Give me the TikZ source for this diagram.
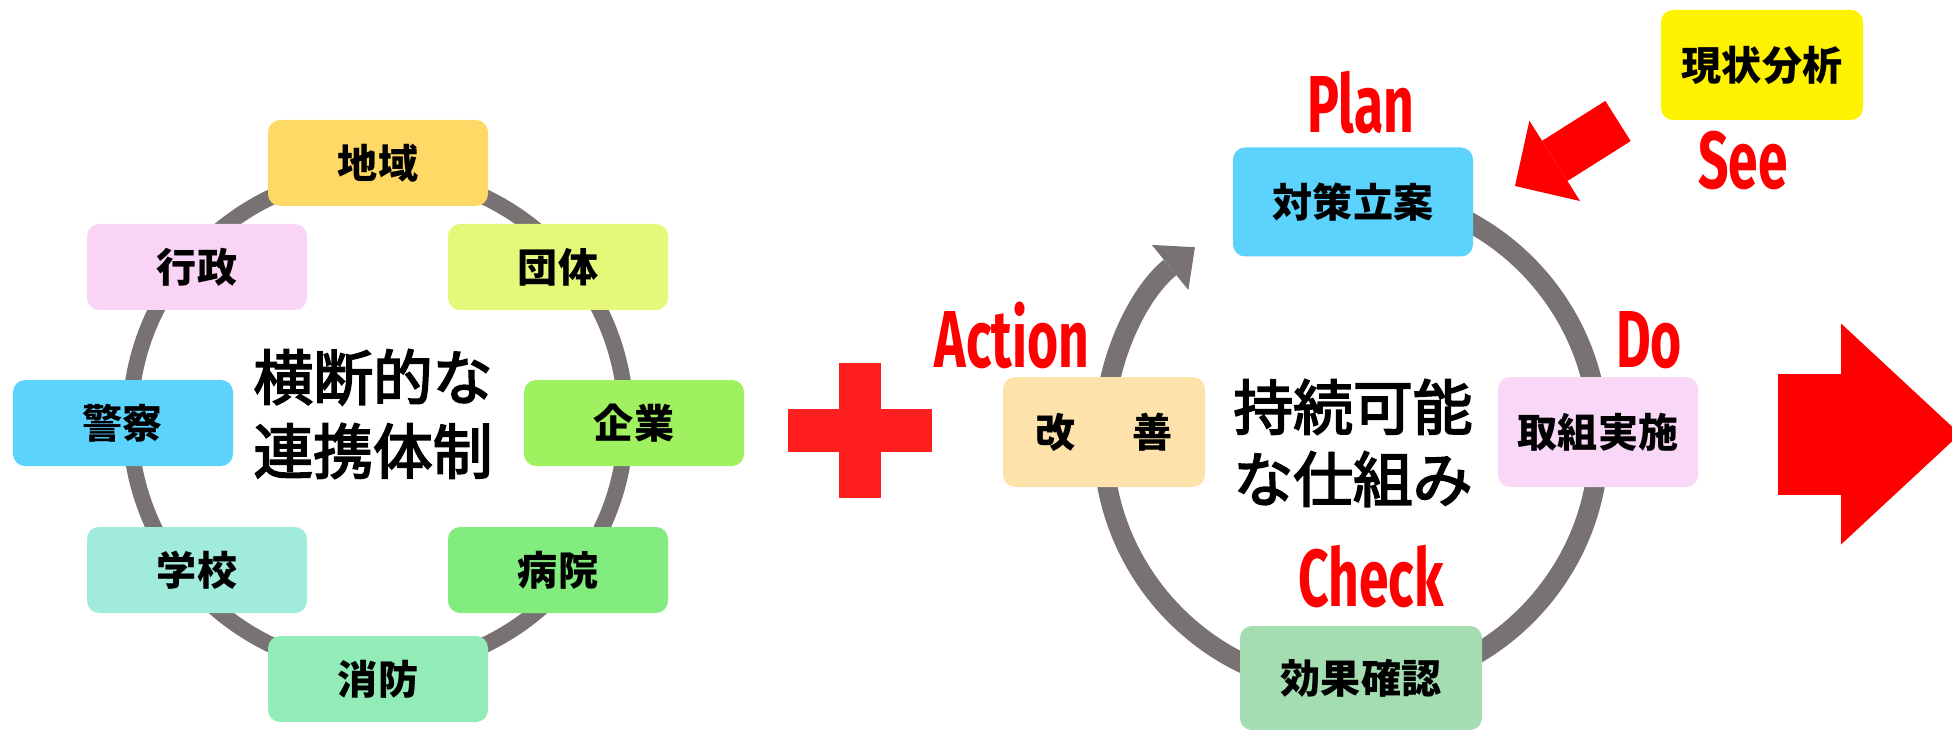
\documentclass[tikz,border=0pt]{standalone}
\usepackage{fontspec}
\usetikzlibrary{positioning,calc,arrows.meta}
\newfontfamily\jpfont{Noto Sans CJK JP}
\newfontfamily\jpmid[FakeBold=3]{Noto Sans CJK JP}
\newfontfamily\pdcafont[FakeStretch=0.66]{Fira Sans}
\definecolor{ringgray}{HTML}{787372}
\definecolor{plusred}{HTML}{FF1F1F}
\definecolor{cChiiki}{HTML}{FFD966}
\definecolor{cGyosei}{HTML}{F9D4F5}
\definecolor{cDantai}{HTML}{E5F87A}
\definecolor{cKeisatsu}{HTML}{5BD3FD}
\definecolor{cKigyo}{HTML}{A0F15F}
\definecolor{cGakko}{HTML}{A0EBDC}
\definecolor{cByoin}{HTML}{82EC7E}
\definecolor{cShobo}{HTML}{92ECB7}
\definecolor{cKaizen}{HTML}{FDE3AB}
\definecolor{cJisshi}{HTML}{F9D7F6}
\definecolor{cKakunin}{HTML}{A4DDB2}
\tikzset{font=\jpfont}
\tikzset{
	card/.style={rounded corners=1.2mm, inner sep=0pt, minimum width=22mm, minimum height=8.6mm, font=\jpfont\bfseries\fontsize{11.4}{13}\selectfont},
	pdcalabel/.style={text=red, inner sep=0pt, anchor=base, font=\pdcafont\bfseries\fontsize{23}{25}\selectfont},
	bigtext/.style={align=center, inner sep=0pt, font=\jpmid\fontsize{17}{21}\selectfont},
}

\begin{document}
\begin{tikzpicture}[x=0.1mm, y=-0.1mm]
	\useasboundingbox (0,0) rectangle (1952,730);

	\begin{scope}
		\coordinate (hub) at (378,421);
		\draw[ringgray, line width=1.6mm] (hub) circle[radius=24.8mm];

		\node[card, fill=cChiiki] (chiiki) at (378,163) {地域};
		\node[card, fill=cGyosei] (gyosei) at (197,267) {行政};
		\node[card, fill=cDantai] (dantai) at (558,267) {団体};
		\node[card, fill=cKeisatsu] (keisatsu) at (123,423) {警察};
		\node[card, fill=cKigyo] (kigyo) at (634,423) {企業};
		\node[card, fill=cGakko] (gakko) at (197,570) {学校};
		\node[card, fill=cByoin] (byoin) at (558,570) {病院};
		\node[card, fill=cShobo] (shobo) at (378,679) {消防};

		\node[bigtext] (renkei) at (373,414) {横断的な\\連携体制};
	\end{scope}

	\fill[plusred] (788,409) rectangle (932,452);
	\fill[plusred] (839,363) rectangle (881,498);

	\begin{scope}
		\coordinate (cyc) at (1351,440);
		\draw[ringgray, line width=2mm, -{Triangle[width=5.8mm, length=3.2mm, line width=0pt]}] ($(cyc)+(90:24.8mm)$) arc[start angle=90, end angle=-231, radius=24.8mm];

		\node[card, fill=cKeisatsu, minimum width=24mm, minimum height=10.9mm] (taisaku) at (1353,202) {対策立案};
		\node[card, fill=cJisshi, minimum width=20mm, minimum height=11mm] (jisshi) at (1598,432) {取組実施};
		\node[card, fill=cKakunin, minimum width=24.2mm, minimum height=10.4mm] (kakunin) at (1361,678) {効果確認};
		\node[card, fill=cKaizen, minimum width=20.2mm, minimum height=11mm] (kaizen) at (1104,432) {改\hspace{1.4em}善};
		\node[card, fill=yellow, minimum width=20.2mm, minimum height=11mm] (genjo) at (1762,65) {現状分析};

		\node[bigtext, font=\jpmid\fontsize{17}{20.5}\selectfont] (shikumi) at (1353,443) {持続可能\\な仕組み};

		\node[pdcalabel] (lblplan) at (1361,133) {Plan};
		\node[pdcalabel] (lbldo) at (1649,367) {Do};
		\node[pdcalabel] (lblcheck) at (1371,606) {Check};
		\node[pdcalabel] (lblaction) at (1012,367) {Action};
		\node[pdcalabel] (lblsee) at (1743,189) {See};

		\coordinate (seetail) at (1618,121);
		\coordinate (seetip) at (1515,186);
		\draw[red, line width=4.75mm, -{Triangle[width=9.5mm, length=4.7mm, line width=0pt]}] (seetail) -- (seetip);
	\end{scope}

	\coordinate (outtail) at (1778,434);
	\coordinate (outtip) at (1960,434);
	\draw[red, line width=12.1mm, -{Triangle[width=22.1mm, length=11.9mm, line width=0pt]}] (outtail) -- (outtip);
\end{tikzpicture}
\end{document}
